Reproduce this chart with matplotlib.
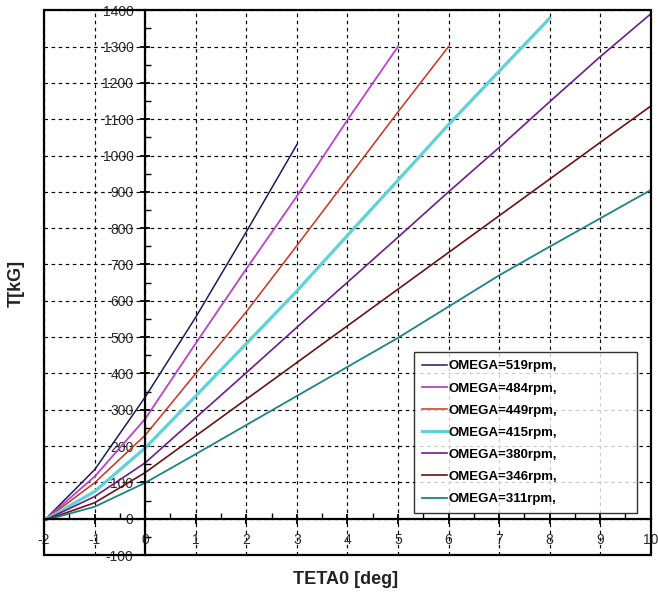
import numpy as np
from matplotlib import pyplot as plt
from matplotlib.patches import Rectangle
from matplotlib.ticker import MultipleLocator

# thrust vs. collective pitch for several rotor speeds -----
teta_519 = [-2, -1, 0, 1, 2, 3]
thrust_519 = [-5, 135, 335, 555, 790, 1030]

teta_484 = [-2, -1, 0, 1, 2, 3, 4, 5]
thrust_484 = [-5, 116, 275, 483, 688, 888, 1098, 1300]

teta_449 = [-2, -1, 0, 1, 2, 3, 4, 5, 6]
thrust_449 = [-5, 99, 230, 400, 570, 752, 936, 1120, 1300]

teta_415 = [-2, -1, 0, 1, 2, 3, 4, 5, 6, 7, 8]
thrust_415 = [-5, 75, 195, 338, 482, 627, 780, 932, 1085, 1232, 1378]

teta_380 = [-2, -1, 0, 1, 2, 3, 4, 5, 6, 7, 8, 9, 10]
thrust_380 = [-5, 61, 154, 278, 402, 527, 651, 775, 900, 1022, 1148, 1272, 1390]

teta_346 = [-2, -1, 0, 1, 2, 3, 4, 5, 6, 7, 8, 9, 10]
thrust_346 = [-5, 44, 127, 228, 329, 430, 531, 632, 733, 834, 935, 1036, 1136]

teta_311 = [-2, -1, 0, 1, 2, 3, 4, 5, 6, 7, 8, 9, 10]
thrust_311 = [-5, 33, 99, 178, 258, 338, 418, 498, 584, 670, 749, 827, 905]

series = [
    ("OMEGA=519rpm,", teta_519, thrust_519, "#1c1c5c", 1.1),
    ("OMEGA=484rpm,", teta_484, thrust_484, "#bb42c9", 1.3),
    ("OMEGA=449rpm,", teta_449, thrust_449, "#d0301e", 1.1),
    ("OMEGA=415rpm,", teta_415, thrust_415, "#5cd3d6", 2.3),
    ("OMEGA=380rpm,", teta_380, thrust_380, "#6b1d8c", 1.2),
    ("OMEGA=346rpm,", teta_346, thrust_346, "#6c1212", 1.2),
    ("OMEGA=311rpm,", teta_311, thrust_311, "#1b8583", 1.3),
]

plt.rcParams["font.family"] = ["Liberation Sans", "DejaVu Sans"]
plt.rcParams["axes.unicode_minus"] = False

fig = plt.figure(figsize=(6.58, 6.02), dpi=100)
ax = fig.add_axes([0.067, 0.078, 0.922, 0.905])

for label, x, y, color, lw in series:
    ax.plot(x, y, color=color, linewidth=lw, label=label, zorder=3)

ax.set_xlim(-2, 10)
ax.set_ylim(-100, 1400)

# axes cross at the origin, outer box drawn separately
ax.spines["left"].set_position(("data", 0))
ax.spines["bottom"].set_position(("data", 0))
for side in ["left", "bottom"]:
    ax.spines[side].set_linewidth(1.6)
    ax.spines[side].set_zorder(4)
for side in ["top", "right"]:
    ax.spines[side].set_visible(False)
ax.add_patch(Rectangle((0, 0), 1, 1, transform=ax.transAxes, fill=False,
                       linewidth=1.6, edgecolor="black", clip_on=False, zorder=5))

ax.xaxis.set_major_locator(MultipleLocator(1))
ax.xaxis.set_minor_locator(MultipleLocator(0.5))
ax.yaxis.set_major_locator(MultipleLocator(100))
ax.yaxis.set_minor_locator(MultipleLocator(50))

ax.tick_params(which="major", direction="inout", length=7, width=1.3,
               labelsize=10, labelcolor="#2a2a2a")
ax.tick_params(which="minor", direction="in", length=4, width=1.0)
ax.tick_params(axis="y", which="major", pad=5)
ax.tick_params(axis="x", which="major", pad=7)

ax.grid(True, which="major", color="black", linestyle=(0, (3, 3)),
        linewidth=0.85, zorder=1)

fig.text(0.025, 0.53, "T[kG]", rotation=90, ha="center", va="center",
         fontsize=13, fontweight="bold", color="#222222")
fig.text(0.525, 0.037, "TETA0 [deg]", ha="center", va="center",
         fontsize=13, fontweight="bold", color="#222222")

leg = ax.legend(loc="lower left", bbox_to_anchor=(0.61, 0.077, 0.368, 0.29),
                mode="expand", prop={"weight": "bold", "size": 9.5},
                frameon=True, fancybox=False, edgecolor="black",
                handlelength=1.9, handletextpad=0.1, labelspacing=0.75,
                borderaxespad=0, borderpad=0.6)
leg.get_frame().set_linewidth(1.0)
leg.set_zorder(6)

fig.savefig("out.png", dpi=100)
